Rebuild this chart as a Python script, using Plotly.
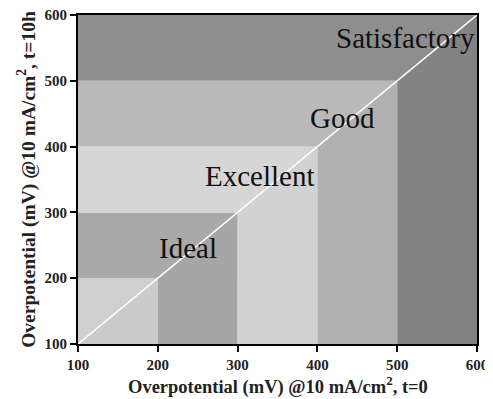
import plotly.graph_objects as go

bounds = [100, 200, 300, 400, 500, 600]
upper_colors = ["#cfcfcf", "#a9a9a9", "#d6d6d6", "#b9b9b9", "#8e8e8e"]
lower_colors = ["#cbcbcb", "#a6a6a6", "#d2d2d2", "#b1b1b1", "#838383"]
labels = ["", "Ideal", "Excellent", "Good", "Satisfactory"]
label_x = [None, 238, 328, 431, 510]
label_y = [None, 246, 355, 443, 565]
tick_vals = [100, 200, 300, 400, 500, 600]
x_title = "Overpotential (mV) @10 mA/cm<sup>2</sup>, t=0"
y_title = "Overpotential (mV) @10 mA/cm<sup>2</sup>, t=10h"

fig = go.Figure()
lo = bounds[0]
for i in range(len(bounds) - 1):
    a, b = bounds[i], bounds[i + 1]
    fig.add_trace(go.Scatter(x=[lo, a, b, lo, lo], y=[a, a, b, b, a], fill="toself",
                             fillcolor=upper_colors[i], mode="none", hoverinfo="skip",
                             showlegend=False))
    fig.add_trace(go.Scatter(x=[a, b, b, a, a], y=[lo, lo, b, a, lo], fill="toself",
                             fillcolor=lower_colors[i], mode="none", hoverinfo="skip",
                             showlegend=False))

fig.add_trace(go.Scatter(x=[bounds[0], bounds[-1]], y=[bounds[0], bounds[-1]], mode="lines",
                         line=dict(color="white", width=1.5), hoverinfo="skip", showlegend=False))

for t, lx, ly in zip(labels, label_x, label_y):
    if t:
        fig.add_annotation(x=lx, y=ly, text=t, showarrow=False,
                           font=dict(family="Liberation Serif", size=29, color="#111111"))

fig.add_annotation(x=0.5, y=-0.125, xref="paper", yref="paper", yanchor="middle",
                   text=x_title, showarrow=False,
                   font=dict(family="Liberation Serif", size=18.5, color="#222222", weight="bold"))

axis_common = dict(range=[100, 600], tickvals=tick_vals, ticks="outside", ticklen=6,
                   tickwidth=1.5, tickcolor="black", showline=True, linecolor="black",
                   linewidth=2, mirror=True, showgrid=False, zeroline=False, automargin=False,
                   ticklabeloverflow="allow",
                   tickfont=dict(family="Liberation Serif", size=15, color="#222222", weight="bold"))

fig.update_xaxes(**axis_common)
fig.update_yaxes(**axis_common,
                 title=dict(text=y_title, standoff=4,
                            font=dict(family="Liberation Serif", size=19.5, color="#222222", weight="bold")))

fig.update_layout(width=485, height=391, margin=dict(l=70, r=16, t=7, b=55),
                  paper_bgcolor="white", plot_bgcolor="white")

fig.write_html("out.html")
